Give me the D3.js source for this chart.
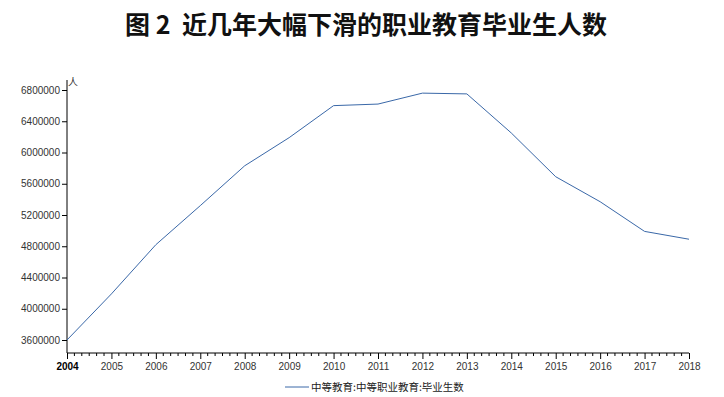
<!DOCTYPE html>
<html>
<head>
<meta charset="utf-8">
<script src="https://cdn.jsdelivr.net/npm/d3@7"></script>
<style>
  body { margin: 0; background: #fff; }
  text { font-family: "Liberation Sans", "Noto Sans CJK SC", sans-serif; }
</style>
</head>
<body>
<div class="chart"></div>
<script>
// data
var years = [2004, 2005, 2006, 2007, 2008, 2009, 2010, 2011, 2012, 2013, 2014, 2015, 2016, 2017, 2018];
var graduates = [3600000, 4190000, 4820000, 5320000, 5830000, 6190000, 6600000, 6620000, 6760000, 6750000, 6250000, 5690000, 5370000, 4990000, 4890000];
var yTicks = [3600000, 4000000, 4400000, 4800000, 5200000, 5600000, 6000000, 6400000, 6800000];
var titleText = "图 2  近几年大幅下滑的职业教育毕业生人数";
var seriesName = "中等教育:中等职业教育:毕业生数";
var unitLabel = "人";

var width = 724, height = 397;
var plotLeft = 67, plotRight = 689, plotTop = 80, plotBottom = 353;

const svg = d3.select(".chart")
              .append("svg")
              .attr("width", width)
              .attr("height", height);

// title
svg.append("text")
   .attr("x", width / 2 + 4)
   .attr("y", 34)
   .attr("text-anchor", "middle")
   .style("font-family", "'Noto Sans CJK SC', sans-serif")
   .style("font-weight", 700)
   .style("font-size", "25px")
   .style("white-space", "pre")
   .attr("fill", "#111")
   .text(titleText);

var x = d3.scaleLinear().domain([2004, 2018]).range([plotLeft, plotRight]);
var y = d3.scaleLinear().domain([3433600, 6928000]).range([plotBottom, plotTop]);

// y axis
var yAxis = svg.append("g")
   .attr("transform", "translate(" + plotLeft + ",0)")
   .call(d3.axisLeft(y).tickValues(yTicks).tickSize(5).tickPadding(2).tickFormat(d3.format("d")));
yAxis.select(".domain").attr("d", "M0," + plotTop + "V" + plotBottom);
yAxis.selectAll("text").style("font-size", "10px").style("font-family", "'Liberation Sans', sans-serif").attr("fill", "#333");

svg.append("text")
   .attr("x", plotLeft + 1)
   .attr("y", plotTop + 6)
   .style("font-family", "'Noto Sans CJK SC', sans-serif")
   .style("font-size", "10px")
   .attr("fill", "#333")
   .text(unitLabel);

// x axis, minor ticks every 2 months
var minor = [];
years.slice(0, -1).forEach(yr => {
  for (var k = 1; k < 6; k++) minor.push(yr + k / 6);
});
svg.append("g")
   .attr("transform", "translate(0," + plotBottom + ")")
   .selectAll("line")
   .data(minor)
   .enter()
   .append("line")
   .attr("x1", d => x(d)).attr("x2", d => x(d))
   .attr("y1", 0).attr("y2", 3)
   .attr("stroke", "#000");

var xAxis = svg.append("g")
   .attr("transform", "translate(0," + plotBottom + ")")
   .call(d3.axisBottom(x).tickValues(years).tickSize(6).tickPadding(4).tickFormat(d3.format("d")));
xAxis.select(".domain").attr("d", "M" + plotLeft + ",0H" + plotRight);
xAxis.selectAll("text").style("font-size", "10px").style("font-family", "'Liberation Sans', sans-serif").attr("fill", "#333");
xAxis.selectAll("text").filter(d => d === 2004).style("font-weight", 700).attr("fill", "#000");

// line
svg.append("path")
   .datum(years.map((yr, i) => [yr, graduates[i]]))
   .attr("fill", "none")
   .attr("stroke", "#3a68a8")
   .attr("stroke-width", 1)
   .attr("d", d3.line().x(d => x(d[0])).y(d => y(d[1])));

// legend
svg.append("line")
   .attr("x1", 285).attr("x2", 309)
   .attr("y1", 387).attr("y2", 387)
   .attr("stroke", "#3a68a8");
svg.append("text")
   .attr("x", 311)
   .attr("y", 391)
   .style("font-family", "'Noto Sans CJK SC', sans-serif")
   .style("font-size", "10.5px")
   .attr("fill", "#222")
   .text(seriesName);
</script>
</body>
</html>
